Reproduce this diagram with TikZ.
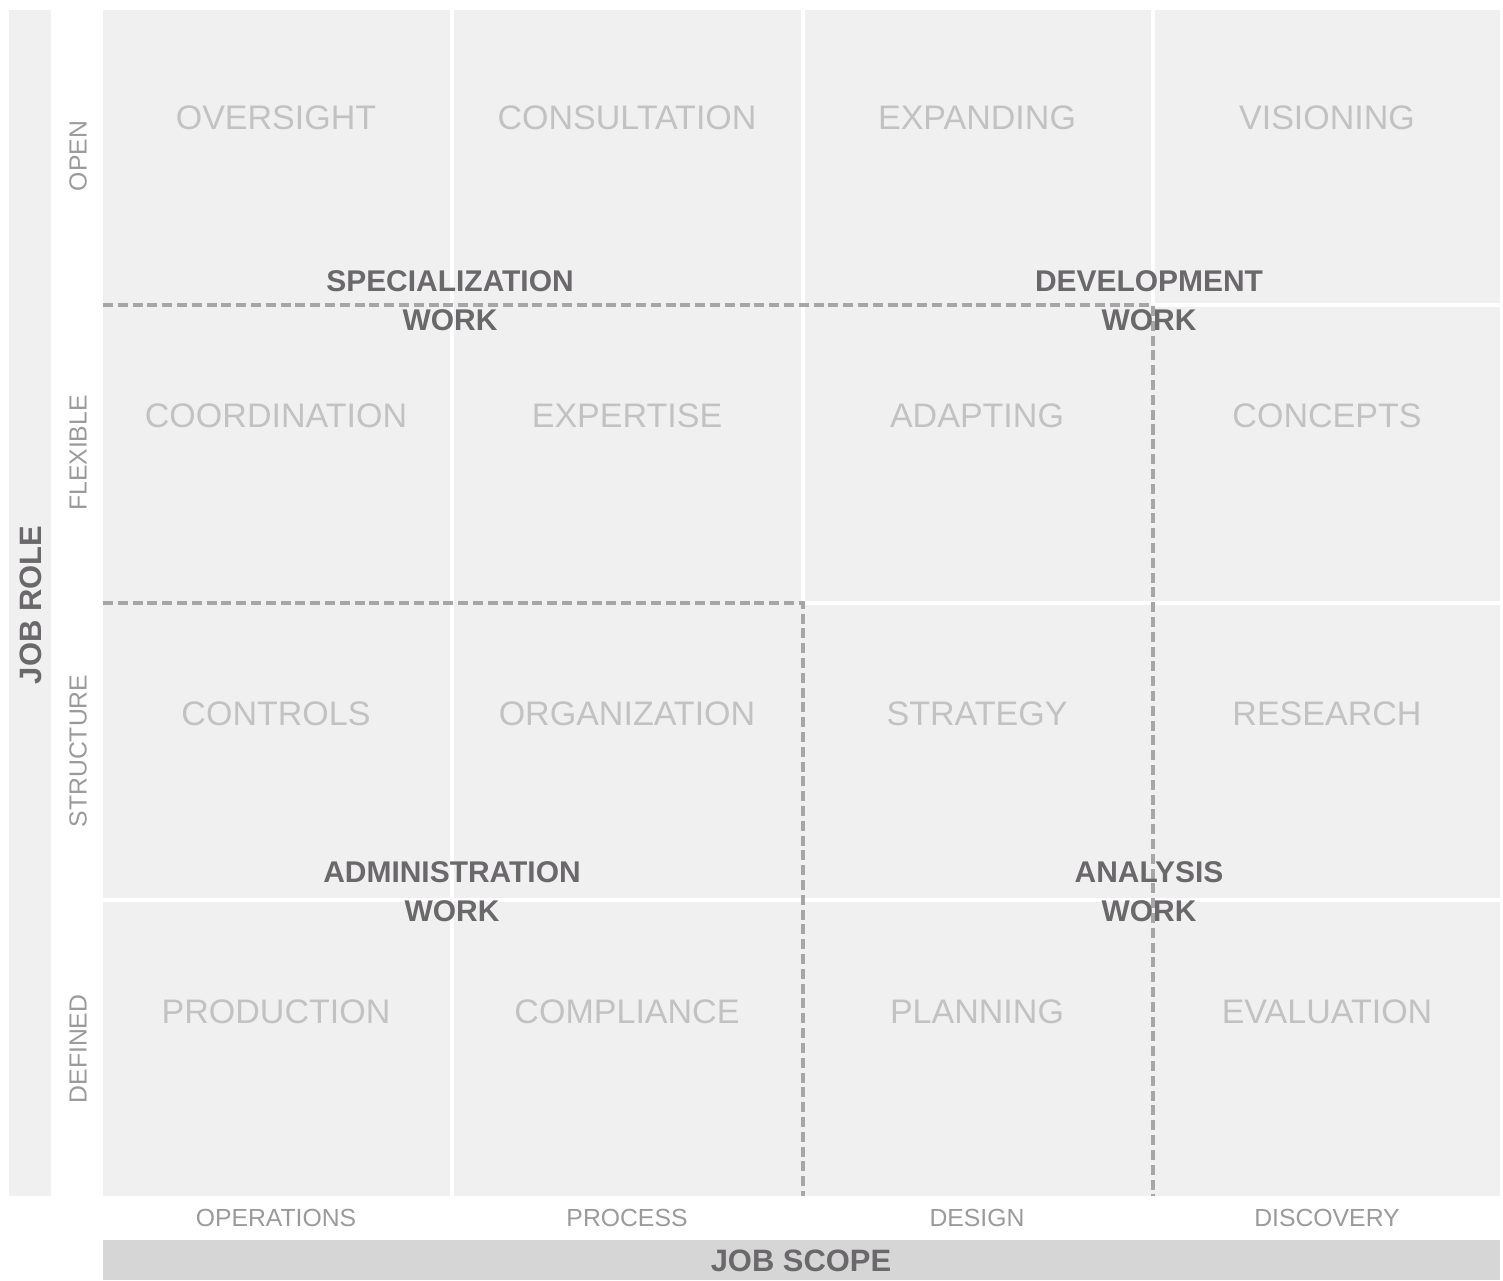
\documentclass[tikz,border=0pt]{standalone}
\usepackage{fontspec}
\setmainfont{Liberation Sans}
\usepackage{xcolor}
\usepackage{tikz}

\definecolor{cellfill}{HTML}{F0F0F0}
\definecolor{celltext}{HTML}{C2C2C2}
\definecolor{worktext}{HTML}{6B686C}
\definecolor{axistext}{HTML}{9A9A9A}
\definecolor{dashgray}{HTML}{A6A6A6}
\definecolor{scopebar}{HTML}{D6D6D6}

\begin{document}
\begin{tikzpicture}[
    x=0.025cm, y=-0.025cm,
    cell/.style={text=celltext, inner sep=0pt, font=\fontsize{24.2}{28}\selectfont},
    work/.style={text=worktext, inner sep=0pt, align=center, font=\bfseries\fontsize{21.3}{27.6}\selectfont},
    rowlabel/.style={text=axistext, inner sep=0pt, rotate=90, font=\fontsize{17.6}{21}\selectfont},
    collabel/.style={text=axistext, inner sep=0pt, font=\fontsize{17.6}{21}\selectfont},
    axis/.style={text=worktext, inner sep=0pt, font=\bfseries\fontsize{22}{26}\selectfont},
    gap/.style={white, line width=1mm},
    border/.style={dashgray, line width=0.9mm, dash pattern=on 2.5mm off 1.2mm}
]
\useasboundingbox (0,0) rectangle (1503,1280);

% backgrounds
\fill[cellfill] (9,10) rectangle (51,1196);
\fill[cellfill] (103,10) rectangle (1500,1196);
\fill[scopebar] (103,1240) rectangle (1500,1280);

% white gaps between cells
\draw[gap] (452,10) -- (452,1196);
\draw[gap] (803,10) -- (803,603);
\draw[gap] (1153,10) -- (1153,305);
\draw[gap] (1153,305) -- (1500,305);
\draw[gap] (803,603) -- (1500,603);
\draw[gap] (103,900) -- (1500,900);

% region borders
\coordinate (spec-w) at (103,305);
\coordinate (dev-c) at (1153,305);
\coordinate (anal-s) at (1153,1196);
\coordinate (admin-w) at (103,603);
\coordinate (admin-c) at (803,603);
\coordinate (admin-s) at (803,1196);
\draw[border] (spec-w) -- (dev-c) -- (anal-s);
\draw[border] (admin-w) -- (admin-c) -- (admin-s);

% cells
\node[cell] (oversight) at (276,118) {OVERSIGHT};
\node[cell] (consultation) at (627,118) {CONSULTATION};
\node[cell] (expanding) at (977,118) {EXPANDING};
\node[cell] (visioning) at (1327,118) {VISIONING};

\node[cell] (coordination) at (276,416) {COORDINATION};
\node[cell] (expertise) at (627,416) {EXPERTISE};
\node[cell] (adapting) at (977,416) {ADAPTING};
\node[cell] (concepts) at (1327,416) {CONCEPTS};

\node[cell] (controls) at (276,714) {CONTROLS};
\node[cell] (organization) at (627,714) {ORGANIZATION};
\node[cell] (strategy) at (977,714) {STRATEGY};
\node[cell] (research) at (1327,714) {RESEARCH};

\node[cell] (production) at (276,1012) {PRODUCTION};
\node[cell] (compliance) at (627,1012) {COMPLIANCE};
\node[cell] (planning) at (977,1012) {PLANNING};
\node[cell] (evaluation) at (1327,1012) {EVALUATION};

% work regions
\node[work] (specialization) at (450,301) {SPECIALIZATION\\WORK};
\node[work] (development) at (1149,301) {DEVELOPMENT\\WORK};
\node[work] (administration) at (452,892) {ADMINISTRATION\\WORK};
\node[work] (analysis) at (1149,892) {ANALYSIS\\WORK};

% axes
\node[rowlabel] (open) at (78,156) {OPEN};
\node[rowlabel] (flexible) at (78,453) {FLEXIBLE};
\node[rowlabel] (structure) at (78,751) {STRUCTURE};
\node[rowlabel] (defined) at (78,1049) {DEFINED};

\node[collabel] (operations) at (276,1218) {OPERATIONS};
\node[collabel] (process) at (627,1218) {PROCESS};
\node[collabel] (design) at (977,1218) {DESIGN};
\node[collabel] (discovery) at (1327,1218) {DISCOVERY};

\node[axis, rotate=90] (jobrole) at (31,605) {JOB ROLE};
\node[axis] (jobscope) at (801,1261) {JOB SCOPE};
\end{tikzpicture}
\end{document}
